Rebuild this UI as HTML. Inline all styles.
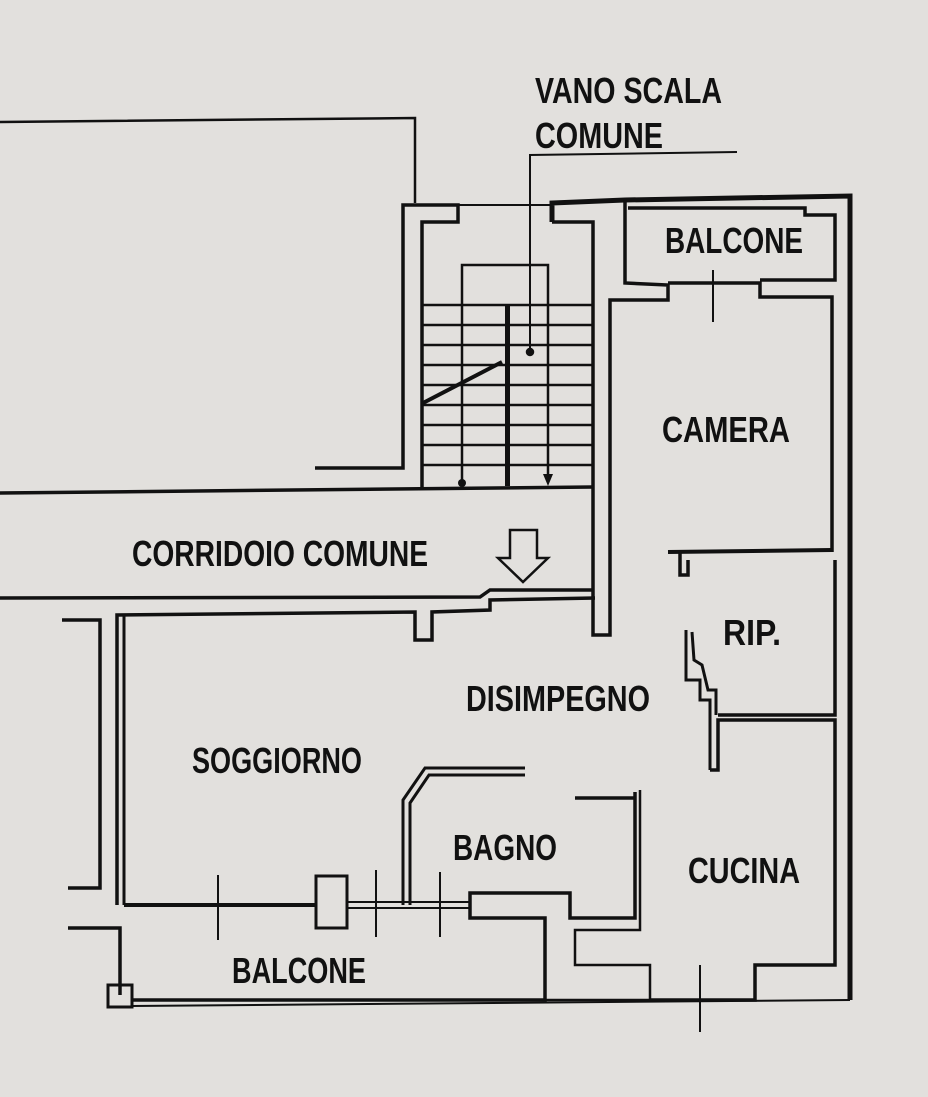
<!DOCTYPE html>
<html><head><meta charset="utf-8"><style>
html,body{margin:0;padding:0;background:#e2e0dd;}
svg{display:block}
text{font-family:"Liberation Sans Narrow","Liberation Sans",sans-serif;font-weight:bold;fill:#111;}
</style></head><body>
<svg width="928" height="1097" viewBox="0 0 928 1097" xmlns="http://www.w3.org/2000/svg">
<rect width="928" height="1097" fill="#e2e0dd"/>
<g fill="none" stroke="#111" stroke-width="3.5" stroke-linejoin="miter">
<polyline points="0,122 415,118 415,203" stroke-width="2.5"/>
<polyline points="737,152 530,155 530,352" stroke-width="2"/>
<circle cx="530" cy="352" r="2.5" fill="#111"/>
<polyline points="315,468 403,468 403,205 458,205 458,222 422,222 422,488"/>
<line x1="458" y1="205" x2="552" y2="205" stroke-width="2"/>
<polyline points="552,222 552,203 625,200 850,196 850,1000" stroke-width="5"/>
<polyline points="552,222 593,222 593,485"/>
<polyline points="593,485 593,635 610,635 610,300 668,300 668,285 625,283 625,200"/>
<polyline points="668,283 760,283 760,297 832,297 832,552"/>
<polyline points="628,208 805,208 805,215 835,215 835,280 760,280"/>
<line x1="713" y1="270" x2="713" y2="322" stroke-width="2"/>
<g stroke-width="2.5">
<line x1="423" y1="305" x2="593" y2="305"/><line x1="423" y1="325" x2="593" y2="325"/>
<line x1="423" y1="345" x2="593" y2="345"/><line x1="423" y1="365" x2="593" y2="365"/>
<line x1="423" y1="385" x2="593" y2="385"/><line x1="423" y1="405" x2="593" y2="405"/>
<line x1="423" y1="425" x2="593" y2="425"/><line x1="423" y1="445" x2="593" y2="445"/>
<line x1="423" y1="465" x2="593" y2="465"/>
<polyline points="462,485 462,265 548,265 548,480"/>
</g>
<rect x="505" y="304" width="5" height="182" fill="#111" stroke="none"/>
<line x1="423" y1="403" x2="502" y2="362" stroke-width="4"/>
<polygon points="543,474 553,474 548,486" fill="#111" stroke="none"/>
<circle cx="462" cy="483" r="4" fill="#111" stroke="none"/>
<polyline points="0,493 593,487"/>
<polyline points="0,598 480,597 490,590 593,590"/>
<polyline points="117,905 117,615 415,612 415,640 432,640 432,612 490,610 490,600 595,598" />
<polygon points="510,530 537,530 537,558 548,558 523,582 498,558 510,558" stroke-width="2.5"/>
<polyline points="62,620 100,620 100,888 68,888"/>
<polyline points="68,928 120,928 120,995"/>
<line x1="124" y1="615" x2="124" y2="905" stroke-width="3"/>
<rect x="108" y="985" width="24" height="22" stroke-width="3"/>
<polyline points="132,1000 545,1000 545,918 470,918 470,893 570,893 570,918 635,918 635,792"/>
<line x1="132" y1="1006" x2="850" y2="1000" stroke-width="2"/>
<polyline points="545,1000 650,1000 650,965 575,965 575,930 640,930 640,790" stroke-width="2.5"/>
<line x1="575" y1="798" x2="635" y2="798"/>
<line x1="124" y1="905" x2="316" y2="905" stroke-width="4"/>
<rect x="316" y="876" width="31" height="52" stroke-width="3"/>
<line x1="347" y1="902" x2="470" y2="902" stroke-width="2"/>
<line x1="347" y1="908" x2="470" y2="908" stroke-width="2"/>
<line x1="218" y1="875" x2="218" y2="940" stroke-width="2"/>
<line x1="376" y1="870" x2="376" y2="937" stroke-width="2"/>
<line x1="440" y1="872" x2="440" y2="937" stroke-width="2"/>
<polyline points="403,905 403,800 425,768 525,768" stroke-width="3"/>
<polyline points="410,905 410,803 429,775 525,775" stroke-width="3"/>
<polyline points="650,1000 755,1000 755,965 835,965 835,720 718,720 718,770 710,770"/>
<polyline points="700,965 700,1032" stroke-width="2"/>
<polyline points="718,715 835,715 835,560"/>
<polyline points="668,552 832,550" stroke-width="4"/>
<polyline points="680,552 680,575 688,575 688,560"/>
<polyline points="686,630 686,680 700,680 700,700 710,700 710,770" stroke-width="3"/>
<polyline points="692,632 694,660 702,665 708,690 716,690 716,715" stroke-width="3"/>
</g>
<g>
<text x="535" y="103" font-size="36" textLength="187" lengthAdjust="spacingAndGlyphs">VANO SCALA</text>
<text x="535" y="148" font-size="36" textLength="128" lengthAdjust="spacingAndGlyphs">COMUNE</text>
<text x="665" y="253" font-size="36" textLength="138" lengthAdjust="spacingAndGlyphs">BALCONE</text>
<text x="662" y="442" font-size="36" textLength="128" lengthAdjust="spacingAndGlyphs">CAMERA</text>
<text x="132" y="566" font-size="36" textLength="296" lengthAdjust="spacingAndGlyphs">CORRIDOIO COMUNE</text>
<text x="723" y="645" font-size="36" textLength="58" lengthAdjust="spacingAndGlyphs">RIP.</text>
<text x="466" y="711" font-size="36" textLength="184" lengthAdjust="spacingAndGlyphs">DISIMPEGNO</text>
<text x="192" y="773" font-size="36" textLength="170" lengthAdjust="spacingAndGlyphs">SOGGIORNO</text>
<text x="453" y="860" font-size="36" textLength="104" lengthAdjust="spacingAndGlyphs">BAGNO</text>
<text x="688" y="883" font-size="36" textLength="112" lengthAdjust="spacingAndGlyphs">CUCINA</text>
<text x="232" y="983" font-size="36" textLength="134" lengthAdjust="spacingAndGlyphs">BALCONE</text>
</g>
</svg>
</body></html>
